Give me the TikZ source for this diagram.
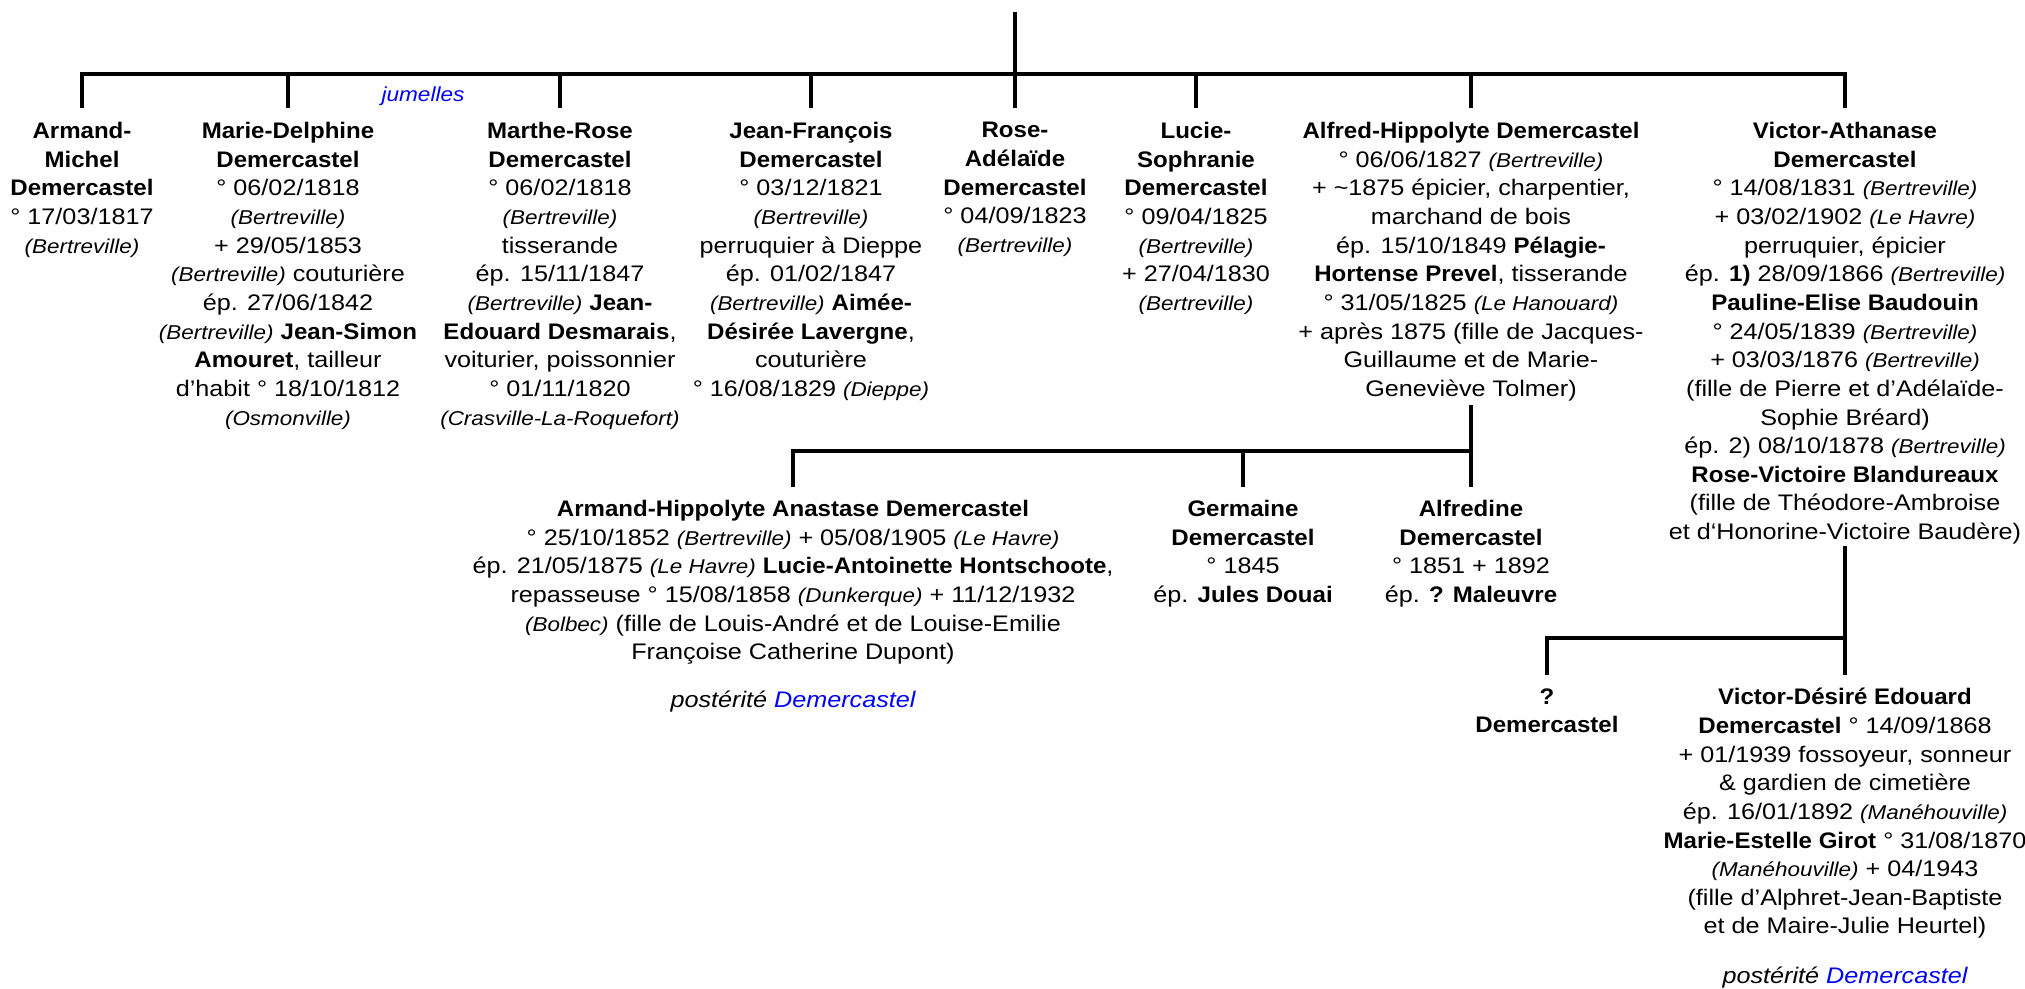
\documentclass[tikz,border=0pt]{standalone}
\usepackage{fontspec}
\setmainfont{Liberation Sans}[FakeStretch=1.12, BoldFeatures={FakeStretch=1.07}]
\newcommand{\lieu}[1]{{\fontsize{11.4}{16.4}\selectfont\itshape(#1)}}
\tikzset{
  pers/.style={anchor=north, inner sep=0pt, align=center, font=\fontsize{12.8}{16.3}\selectfont},
  lien/.style={line width=1.8pt},
}

\begin{document}
\begin{tikzpicture}[x=0.02cm, y=-0.02cm]
\useasboundingbox (0,0) rectangle (2025,988);

% frères et soeurs
\node[pers] (A1) at (82,122) {\textbf{Armand-}\\ \textbf{Michel}\\ \textbf{Demercastel}\\ ° 17/03/1817\\ \lieu{Bertreville}};
\node[pers] (A2) at (288,122) {\textbf{Marie-Delphine}\\ \textbf{Demercastel}\\ ° 06/02/1818\\ \lieu{Bertreville}\\ + 29/05/1853\\ \lieu{Bertreville} couturière\\ ép. 27/06/1842\\ \lieu{Bertreville} \textbf{Jean-Simon}\\ \textbf{Amouret}, tailleur\\ d’habit ° 18/10/1812\\ \lieu{Osmonville}};
\node[pers] (A3) at (560,122) {\textbf{Marthe-Rose}\\ \textbf{Demercastel}\\ ° 06/02/1818\\ \lieu{Bertreville}\\ tisserande\\ ép. 15/11/1847\\ \lieu{Bertreville} \textbf{Jean-}\\ \textbf{Edouard Desmarais},\\ voiturier, poissonnier\\ ° 01/11/1820\\ \lieu{Crasville-La-Roquefort}};
\node[pers] (A4) at (811,122) {\textbf{Jean-François}\\ \textbf{Demercastel}\\ ° 03/12/1821\\ \lieu{Bertreville}\\ perruquier à Dieppe\\ ép. 01/02/1847\\ \lieu{Bertreville} \textbf{Aimée-}\\ \textbf{Désirée Lavergne},\\ couturière\\ ° 16/08/1829 \lieu{Dieppe}};
\node[pers] (A5) at (1015,122) {\textbf{Rose-}\\ \textbf{Adélaïde}\\ \textbf{Demercastel}\\ ° 04/09/1823\\ \lieu{Bertreville}};
\node[pers] (A6) at (1196,122) {\textbf{Lucie-}\\ \textbf{Sophranie}\\ \textbf{Demercastel}\\ ° 09/04/1825\\ \lieu{Bertreville}\\ + 27/04/1830\\ \lieu{Bertreville}};
\node[pers] (A7) at (1471,122) {\textbf{Alfred-Hippolyte Demercastel}\\ ° 06/06/1827 \lieu{Bertreville}\\ + \textasciitilde1875 épicier, charpentier,\\ marchand de bois\\ ép. 15/10/1849 \textbf{Pélagie-}\\ \textbf{Hortense Prevel}, tisserande\\ ° 31/05/1825 \lieu{Le Hanouard}\\ + après 1875 (fille de Jacques-\\ Guillaume et de Marie-\\ Geneviève Tolmer)};
\node[pers] (A8) at (1845,122) {\textbf{Victor-Athanase}\\ \textbf{Demercastel}\\ ° 14/08/1831 \lieu{Bertreville}\\ + 03/02/1902 \lieu{Le Havre}\\ perruquier, épicier\\ ép. \textbf{1)} 28/09/1866 \lieu{Bertreville}\\ \textbf{Pauline-Elise Baudouin}\\ ° 24/05/1839 \lieu{Bertreville}\\ + 03/03/1876 \lieu{Bertreville}\\ (fille de Pierre et d’Adélaïde-\\ Sophie Bréard)\\ ép. 2) 08/10/1878 \lieu{Bertreville}\\ \textbf{Rose-Victoire Blandureaux}\\ (fille de Théodore-Ambroise\\ et d‘Honorine-Victoire Baudère)};
\node[inner sep=0pt, text=blue, font=\fontsize{11.5}{14}\selectfont\itshape] (J) at (423,96) {jumelles};

% enfants d'Alfred-Hippolyte
\node[pers] (B1) at (793,500) {\textbf{Armand-Hippolyte Anastase Demercastel}\\ ° 25/10/1852 \lieu{Bertreville} + 05/08/1905 \lieu{Le Havre}\\ ép. 21/05/1875 \lieu{Le Havre} \textbf{Lucie-Antoinette Hontschoote},\\ repasseuse ° 15/08/1858 \lieu{Dunkerque} + 11/12/1932\\ \lieu{Bolbec} (fille de Louis-André et de Louise-Emilie\\ Françoise Catherine Dupont)};
\node[pers] (B2) at (1243,500) {\textbf{Germaine}\\ \textbf{Demercastel}\\ ° 1845\\ ép. \textbf{Jules Douai}};
\node[pers] (B3) at (1471,500) {\textbf{Alfredine}\\ \textbf{Demercastel}\\ ° 1851 + 1892\\ ép. \textbf{? Maleuvre}};
\node[pers, font=\fontsize{12.8}{16.3}\selectfont\itshape] (P1) at (793,691) {postérité \textcolor{blue}{Demercastel}};

% enfants de Victor-Athanase
\node[pers] (C1) at (1547,688) {\textbf{?}\\ \textbf{Demercastel}};
\node[pers] (C2) at (1845,688) {\textbf{Victor-Désiré Edouard}\\ \textbf{Demercastel} ° 14/09/1868\\ + 01/1939 fossoyeur, sonneur\\ \& gardien de cimetière\\ ép. 16/01/1892 \lieu{Manéhouville}\\ \textbf{Marie-Estelle Girot} ° 31/08/1870\\ \lieu{Manéhouville} + 04/1943\\ (fille d’Alphret-Jean-Baptiste\\ et de Maire-Julie Heurtel)};
\node[pers, font=\fontsize{12.8}{16.3}\selectfont\itshape] (P2) at (1845,967) {postérité \textcolor{blue}{Demercastel}};

% traits
\coordinate (R) at (1015,12);
\coordinate (R0) at (1015,74);
\coordinate (R1) at (1471,451);
\coordinate (R2) at (1845,638);
\draw[lien] (R) -- (R0);
\draw[lien] (R0) -| ([yshift=8pt]A1.north);
\draw[lien] (R0) -| ([yshift=8pt]A2.north);
\draw[lien] (R0) -| ([yshift=8pt]A3.north);
\draw[lien] (R0) -| ([yshift=8pt]A4.north);
\draw[lien] (R0) -- ([yshift=8pt]A5.north);
\draw[lien] (R0) -| ([yshift=8pt]A6.north);
\draw[lien] (R0) -| ([yshift=8pt]A7.north);
\draw[lien] (R0) -| ([yshift=8pt]A8.north);

\draw[lien] ([yshift=-2pt]A7.south) -- (R1);
\draw[lien] (R1) -| ([yshift=7.5pt]B1.north);
\draw[lien] (R1) -| ([yshift=7.5pt]B2.north);
\draw[lien] (R1) -- ([yshift=7.5pt]B3.north);

\draw[lien] ([yshift=-1pt]A8.south) -- (R2);
\draw[lien] (R2) -| ([yshift=7.5pt]C1.north);
\draw[lien] (R2) -- ([yshift=7.5pt]C2.north);
\end{tikzpicture}
\end{document}
